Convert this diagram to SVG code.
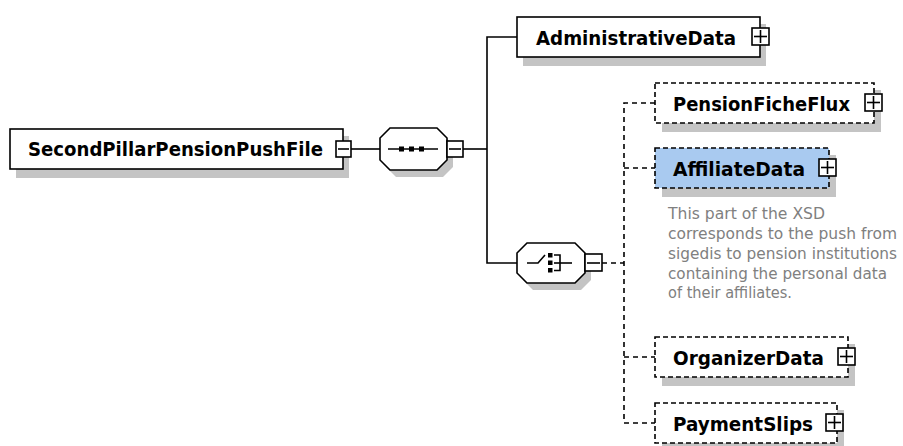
<svg xmlns="http://www.w3.org/2000/svg" width="903" height="446" viewBox="0 0 903 446">
<style>
.box{fill:#fff;stroke:#000;stroke-width:1.6}
.dbox{fill:#fff;stroke:#000;stroke-width:1.6;stroke-dasharray:5 3}
.sel{fill:#a9caf0}
.sh{fill:#c4c4c4;stroke:none}
.lbl{font-family:"DejaVu Sans",Verdana,sans-serif;font-weight:bold;font-size:19.5px;fill:#000}
.desc{font-family:"DejaVu Sans",Verdana,sans-serif;font-size:15.5px;fill:#808080}
.ln{stroke:#000;stroke-width:1.6;fill:none}
.dl{stroke:#000;stroke-width:1.6;fill:none;stroke-dasharray:5 4}
.pm{fill:#fff;stroke:#000;stroke-width:1.6}
.pml{stroke:#000;stroke-width:1.6}
</style>
<g id="connectors">
<line class="ln" x1="351" y1="149" x2="380" y2="149"/>
<line class="ln" x1="463" y1="149" x2="487" y2="149"/>
<polyline class="ln" points="517,37 487,37 487,263 517,263"/>
<line class="dl" x1="602" y1="263" x2="624" y2="263"/>
<polyline class="dl" points="655,103 624,103 624,423 655,423"/>
<line class="dl" x1="624" y1="168" x2="655" y2="168"/>
<line class="dl" x1="624" y1="357" x2="655" y2="357"/>
</g>
<g id="root">
<rect class="sh" x="16" y="136" width="333" height="42"/>
<rect class="box" x="10" y="129" width="333" height="40"/>
<text class="lbl" x="28" y="156" textLength="295" lengthAdjust="spacingAndGlyphs">SecondPillarPensionPushFile</text>
<rect class="pm" x="336" y="141" width="15" height="16"/>
<line class="pml" x1="338" y1="149" x2="349" y2="149"/>
</g>
<g id="sequence">
<polygon class="sh" points="396,135 443,135 453,145 453,167 443,177 396,177 386,167 386,145"/>
<polygon class="box" points="390,128 437,128 447,138 447,160 437,170 390,170 380,160 380,138"/>
<line class="ln" x1="388" y1="149" x2="438" y2="149"/>
<rect x="399" y="146.5" width="5" height="5" fill="#000"/>
<rect x="409" y="146.5" width="5" height="5" fill="#000"/>
<rect x="419" y="146.5" width="5" height="5" fill="#000"/>
<rect class="pm" x="447" y="141" width="16" height="16"/>
<line class="pml" x1="449" y1="149" x2="461" y2="149"/>
</g>
<g id="AdministrativeData">
<rect class="sh" x="523" y="24" width="243" height="42"/>
<rect class="box" x="517" y="17" width="243" height="40"/>
<text class="lbl" x="536" y="45" textLength="200" lengthAdjust="spacingAndGlyphs">AdministrativeData</text>
<rect class="pm" x="752" y="28" width="17" height="17"/>
<line class="pml" x1="754" y1="36.5" x2="767" y2="36.5"/>
<line class="pml" x1="760.5" y1="30" x2="760.5" y2="43"/>
</g>
<g id="choice">
<polygon class="sh" points="533,250 581,250 591,260 591,280 581,290 533,290 523,280 523,260"/>
<polygon class="box" points="527,243 575,243 585,253 585,273 575,283 527,283 517,273 517,253"/>
<polyline class="ln" points="527,263 538,263 545,255"/>
<rect x="548" y="253" width="4.5" height="4.5" fill="#000"/>
<rect x="548" y="260.5" width="4.5" height="4.5" fill="#000"/>
<rect x="548" y="268" width="4.5" height="4.5" fill="#000"/>
<polyline class="ln" points="554,255 560,255 560,270.5 554,270.5"/>
<line class="ln" x1="554" y1="263" x2="572" y2="263"/>
<rect class="pm" x="585" y="254" width="17" height="17"/>
<line class="pml" x1="587" y1="263" x2="600" y2="263"/>
</g>
<g id="PensionFicheFlux">
<rect class="sh" x="662" y="90" width="219" height="42"/>
<rect class="dbox" x="655" y="83" width="219" height="40"/>
<text class="lbl" x="673" y="111" textLength="177" lengthAdjust="spacingAndGlyphs">PensionFicheFlux</text>
<rect class="pm" x="865" y="94" width="17" height="17"/>
<line class="pml" x1="867" y1="102.5" x2="880" y2="102.5"/>
<line class="pml" x1="873.5" y1="96" x2="873.5" y2="109"/>
</g>
<g id="AffiliateData">
<rect class="sh" x="662" y="155" width="174" height="42"/>
<rect class="dbox sel" x="655" y="148" width="174" height="40"/>
<text class="lbl" x="673" y="176" textLength="132" lengthAdjust="spacingAndGlyphs">AffiliateData</text>
<rect class="pm" x="819" y="159" width="17" height="17"/>
<line class="pml" x1="821" y1="167.5" x2="834" y2="167.5"/>
<line class="pml" x1="827.5" y1="161" x2="827.5" y2="174"/>
<text class="desc" x="668" y="219" textLength="157" lengthAdjust="spacingAndGlyphs">This part of the XSD</text>
<text class="desc" x="668" y="239" textLength="229" lengthAdjust="spacingAndGlyphs">corresponds to the push from</text>
<text class="desc" x="668" y="259" textLength="229" lengthAdjust="spacingAndGlyphs">sigedis to pension institutions</text>
<text class="desc" x="668" y="279" textLength="219" lengthAdjust="spacingAndGlyphs">containing the personal data</text>
<text class="desc" x="668" y="298" textLength="124" lengthAdjust="spacingAndGlyphs">of their affiliates.</text>
</g>
<g id="OrganizerData">
<rect class="sh" x="662" y="344" width="193" height="42"/>
<rect class="dbox" x="655" y="337" width="193" height="40"/>
<text class="lbl" x="673" y="365" textLength="151" lengthAdjust="spacingAndGlyphs">OrganizerData</text>
<rect class="pm" x="838" y="348" width="17" height="17"/>
<line class="pml" x1="840" y1="356.5" x2="853" y2="356.5"/>
<line class="pml" x1="846.5" y1="350" x2="846.5" y2="363"/>
</g>
<g id="PaymentSlips">
<rect class="sh" x="662" y="410" width="182" height="42"/>
<rect class="dbox" x="655" y="403" width="182" height="40"/>
<text class="lbl" x="673" y="431" textLength="140" lengthAdjust="spacingAndGlyphs">PaymentSlips</text>
<rect class="pm" x="826" y="414" width="17" height="17"/>
<line class="pml" x1="828" y1="422.5" x2="841" y2="422.5"/>
<line class="pml" x1="834.5" y1="416" x2="834.5" y2="429"/>
</g>
</svg>
